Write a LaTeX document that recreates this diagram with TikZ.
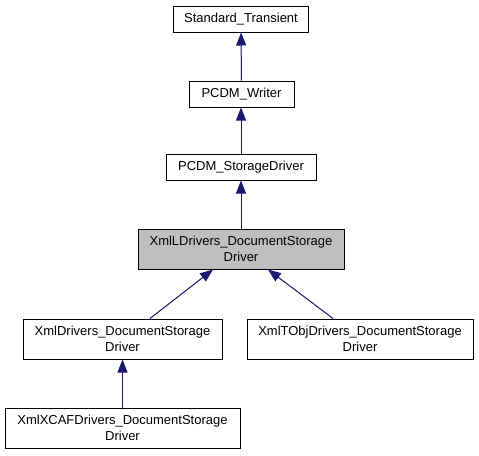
\documentclass[tikz,border=0pt]{standalone}
\usepackage{fontspec}
\setmainfont{Liberation Sans}
\usetikzlibrary{arrows.meta}
\definecolor{edgeblue}{HTML}{191970}
\definecolor{hlgray}{HTML}{BFBFBF}
\tikzset{
  cls/.style={draw=black, line width=1pt, fill=white, inner sep=0pt, align=center,
    font=\fontsize{13}{16}\selectfont, minimum height=26pt},
  cls2/.style={cls, minimum height=40pt},
  inh/.style={draw=edgeblue, line width=1pt, -{Triangle[length=13pt,width=10pt]}, fill=edgeblue},
}
\begin{document}
\begin{tikzpicture}[x=1pt,y=-1pt]
\useasboundingbox (0,0) rectangle (479,455);
\node[cls, minimum width=135pt] (st) at (241,19) {Standard\_Transient};
\node[cls, minimum width=105pt] (pw) at (241.5,94) {PCDM\_Writer};
\node[cls, minimum width=150pt] (psd) at (241,167) {PCDM\_StorageDriver};
\node[cls2, minimum width=206pt, fill=hlgray] (xld) at (241,249) {XmlLDrivers\_DocumentStorage\\Driver};
\node[cls2, minimum width=199pt] (xd) at (122.5,339) {XmlDrivers\_DocumentStorage\\Driver};
\node[cls2, minimum width=226pt] (xt) at (360,339) {XmlTObjDrivers\_DocumentStorage\\Driver};
\node[cls2, minimum width=235pt] (xx) at (122.5,428) {XmlXCAFDrivers\_DocumentStorage\\Driver};
\draw[inh] (pw) -- (st);
\draw[inh] (psd) -- (pw.south -| psd.north);
\draw[inh] (xld) -- (psd);
\draw[inh] ([xshift=27.5pt]xd.north) -- ([xshift=-28pt]xld.south);
\draw[inh] ([xshift=-27pt]xt.north) -- ([xshift=27pt]xld.south);
\draw[inh] (xx) -- (xd);
\end{tikzpicture}
\end{document}
